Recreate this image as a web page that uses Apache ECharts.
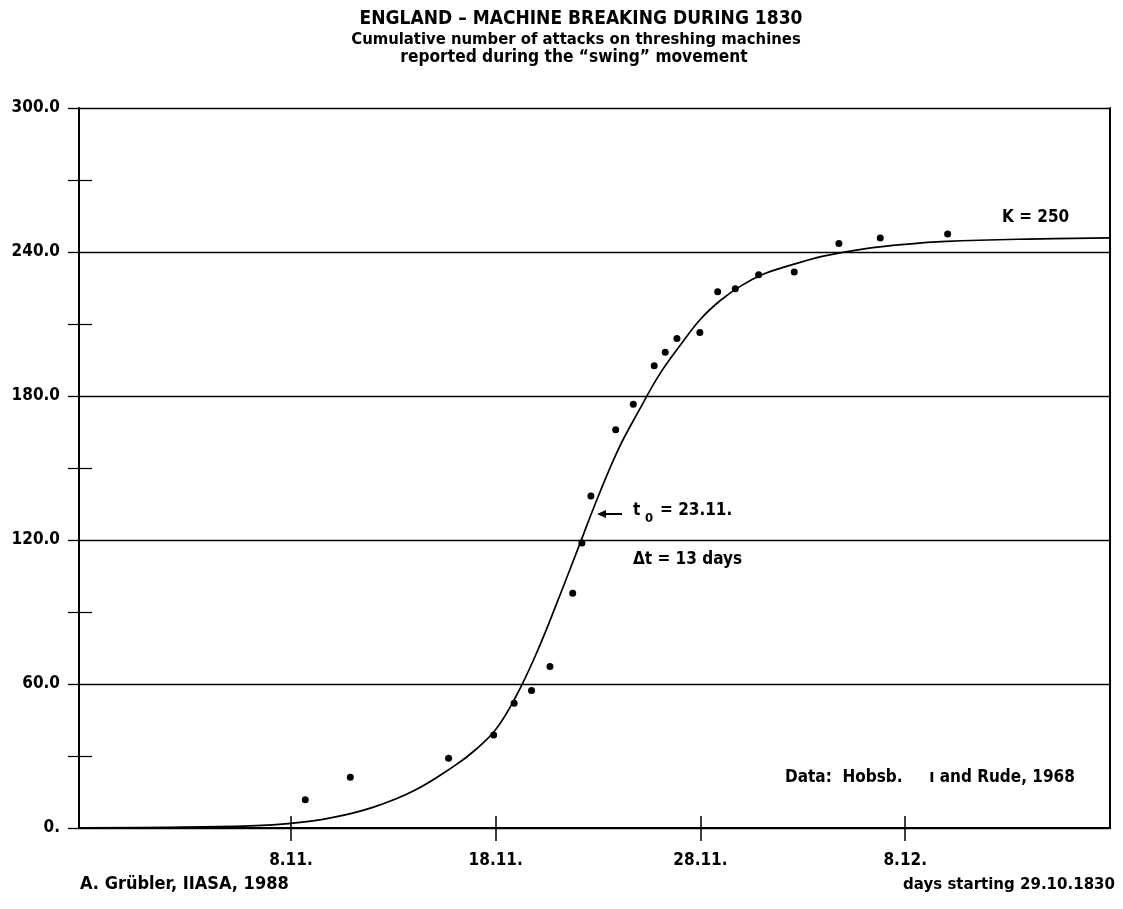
<!DOCTYPE html>
<html>
<head>
<meta charset="utf-8">
<script src="https://cdn.jsdelivr.net/npm/echarts@6/dist/echarts.min.js"></script>
<style>
html,body{margin:0;padding:0;background:#fff;}
#chart{width:1123px;height:909px;}
</style>
</head>
<body>
<div id="chart"></div>
<script>
// ---- data ----
// x = days after 29.10.1830
const pointDays   = [10.7, 12.9, 17.7, 19.9, 20.9, 21.75, 22.65, 23.76, 24.21, 24.65, 25.86, 26.72, 27.74, 28.28, 28.85, 29.97, 30.84, 31.70, 32.84, 34.58, 36.76, 38.78, 42.07];
const pointValues = [11.8, 21.1, 29.1, 38.8, 52.0, 57.3, 67.3, 97.8, 118.8, 138.3, 165.9, 176.6, 192.6, 198.2, 204.0, 206.5, 223.4, 224.7, 230.5, 231.7, 243.5, 245.8, 247.5];

const curveDays   = [-0.35, 4, 8, 10, 12, 14, 16, 18, 19, 20, 21, 22, 23, 24, 25, 26, 27, 28, 29, 30, 31, 32, 33, 34, 35, 36, 38, 40, 42, 46, 50];
const curveValues = [0.1, 0.3, 0.9, 1.9, 4.3, 8.6, 15.5, 26, 32.5, 41, 55, 73, 94, 116, 138, 158, 174, 189, 201, 212, 220, 226, 230.5, 233.5, 236, 238.3, 241.3, 243.2, 244.4, 245.4, 245.9];

const xTickValues = [10, 20, 30, 40];
const xTickLabels = ['8.11.', '18.11.', '28.11.', '8.12.'];
const yTickValues = [0, 60, 120, 180, 240, 300];
const yTickLabels = ['0.', '60.0', '120.0', '180.0', '240.0', '300.0'];
const yMinorTicks = [30, 90, 150, 210, 270];

const titleText = 'ENGLAND \u2013 MACHINE BREAKING DURING 1830';
const subtitle1 = 'Cumulative number of attacks on threshing machines';
const subtitle2 = 'reported during the \u201cswing\u201d movement';
const kText = 'K = 250';
const t0Text = '= 23.11.';
const dtText = '\u0394t = 13 days';
const sourceText = 'Data:  Hobsb.     \u0131 and Rude, 1968';
const authorText = 'A. Gr\u00fcbler, IIASA, 1988';
const xNoteText = 'days starting 29.10.1830';

// ---- chart ----
const FONT = '"Liberation Sans Narrow", "DejaVu Sans Condensed", "Liberation Sans", sans-serif';
const BLACK = '#000';
const chart = echarts.init(document.getElementById('chart'), null, {renderer: 'canvas'});

function txt(x, y, text, size, align, extra) {
  return Object.assign({
    type: 'text', x: x, y: y, silent: true,
    style: {text: text, fill: BLACK, font: 'bold ' + size + 'px ' + FONT, textAlign: align || 'left', textVerticalAlign: 'middle'}
  }, extra || {});
}

const option = {
  backgroundColor: '#fff',
  animation: false,
  grid: {left: 79, right: 13, top: 108, bottom: 81},
  xAxis: [
    {
      type: 'value', min: -0.35, max: 50,
      axisLine: {show: true, onZero: false, lineStyle: {color: BLACK, width: 2}},
      axisTick: {show: true, inside: false, length: 13, customValues: xTickValues, lineStyle: {color: BLACK, width: 1.5}},
      axisLabel: {show: true, customValues: xTickValues, margin: 24, color: BLACK, fontFamily: FONT, fontWeight: 'bold', fontSize: 17,
        formatter: function (v) { const i = xTickValues.indexOf(v); return i >= 0 ? xTickLabels[i] : ''; }},
      splitLine: {show: false}
    },
    {
      type: 'value', min: -0.35, max: 50, position: 'bottom',
      axisLine: {show: false},
      axisTick: {show: true, inside: true, length: 12, customValues: xTickValues, lineStyle: {color: BLACK, width: 1.5}},
      axisLabel: {show: false},
      splitLine: {show: false}
    }
  ],
  yAxis: [
    {
      type: 'value', min: 0, max: 300, interval: 60, position: 'left',
      axisLine: {show: true, onZero: false, lineStyle: {color: BLACK, width: 2}},
      axisTick: {show: true, inside: false, length: 11, lineStyle: {color: BLACK, width: 1.3}},
      axisLabel: {show: true, margin: 19, color: BLACK, fontFamily: FONT, fontWeight: 'bold', fontSize: 17,
        formatter: function (v) { const i = yTickValues.indexOf(v); return i >= 0 ? yTickLabels[i] : ''; }},
      splitLine: {show: true, lineStyle: {color: BLACK, width: 1.4}}
    },
    {
      // minor ticks crossing the left axis
      type: 'value', min: 0, max: 300, position: 'left', offset: -13,
      axisLine: {show: false},
      axisTick: {show: true, inside: false, length: 24, customValues: yMinorTicks, lineStyle: {color: BLACK, width: 1.2}},
      axisLabel: {show: false}, splitLine: {show: false}
    },
    {
      type: 'value', min: 0, max: 300, position: 'right',
      axisLine: {show: true, onZero: false, lineStyle: {color: BLACK, width: 2}},
      axisTick: {show: false}, axisLabel: {show: false}, splitLine: {show: false}
    }
  ],
  series: [
    {
      type: 'line', name: 'logistic fit', xAxisIndex: 0, yAxisIndex: 0,
      data: curveDays.map((d, i) => [d, curveValues[i]]),
      smooth: 0.4, showSymbol: false, symbol: 'none',
      lineStyle: {color: BLACK, width: 1.7}, z: 3
    },
    {
      type: 'scatter', name: 'attacks', xAxisIndex: 0, yAxisIndex: 0,
      data: pointDays.map((d, i) => [d, pointValues[i]]),
      symbol: 'circle', symbolSize: 7,
      itemStyle: {color: BLACK, opacity: 1}, z: 4
    }
  ],
  graphic: [
    txt(581, 19, titleText, 19, 'center'),
    txt(576, 40, subtitle1, 16.5, 'center'),
    txt(574, 58, subtitle2, 17.2, 'center'),
    txt(1002, 218, kText, 17, 'left'),
    {type: 'line', silent: true, shape: {x1: 602, y1: 514, x2: 622, y2: 514}, style: {stroke: BLACK, lineWidth: 2}},
    {type: 'polygon', silent: true, shape: {points: [[597, 514], [606, 510], [606, 518]]}, style: {fill: BLACK}},
    txt(633, 511, 't', 17, 'left'),
    txt(645, 519, '0', 13, 'left'),
    txt(660, 511, t0Text, 17, 'left'),
    txt(633, 560, dtText, 17, 'left'),
    txt(785, 778, sourceText, 17, 'left'),
    txt(80, 884, authorText, 18, 'left'),
    txt(1115, 885, xNoteText, 16.7, 'right')
  ]
};
chart.setOption(option);
</script>
</body>
</html>
